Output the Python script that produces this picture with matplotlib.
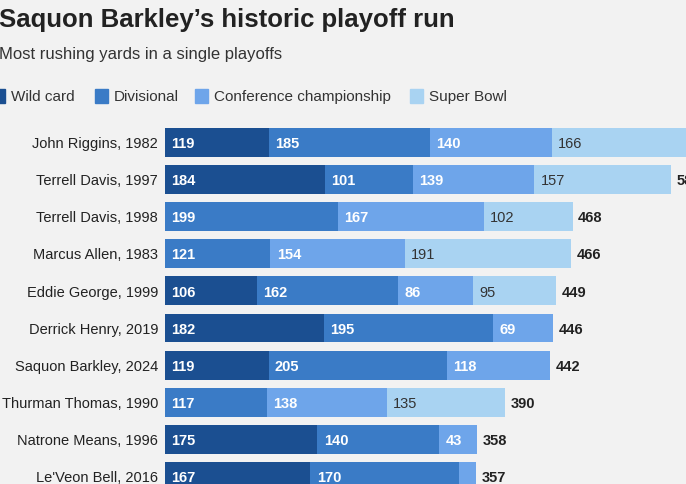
import numpy as np
import matplotlib.pyplot as plt
from matplotlib.patches import Rectangle

# Data (rushing yards per playoff round, nan = no game that round)
players = ["John Riggins, 1982", "Terrell Davis, 1997", "Terrell Davis, 1998",
           "Marcus Allen, 1983", "Eddie George, 1999", "Derrick Henry, 2019",
           "Saquon Barkley, 2024", "Thurman Thomas, 1990", "Natrone Means, 1996",
           "Le'Veon Bell, 2016"]
wild_card = [119, 184, np.nan, np.nan, 106, 182, 119, np.nan, 175, 167]
divisional = [185, 101, 199, 121, 162, 195, 205, 117, 140, 170]
conference = [140, 139, 167, 154, 86, 69, 118, 138, 43, 20]
super_bowl = [166, 157, 102, 191, 95, np.nan, np.nan, 135, np.nan, np.nan]

rounds = ["Wild card", "Divisional", "Conference championship", "Super Bowl"]
colors = ["#1b4f91", "#3a7bc6", "#6ea5ea", "#a9d3f2"]
text_colors = ["white", "white", "white", "#333333"]

bg = "#f2f2f2"
plt.rcParams["font.family"] = ["Liberation Sans", "DejaVu Sans"]
W, H = 686, 485

fig = plt.figure(figsize=(W / 100, H / 100), dpi=100, facecolor=bg)

# axes covers whole height; y mapped so rows land at the right pixel rows
x0 = 165
px_per_yd = 0.871
row0, step = 143.5, 37.1
ax = fig.add_axes([x0 / W, 0, 1 - x0 / W, 1])
ax.set_facecolor(bg)
ax.set_xlim(0, (W - x0) / px_per_yd)
ax.set_ylim((H - row0) / step, -row0 / step)
ax.axis("off")

series = [wild_card, divisional, conference, super_bowl]
y = np.arange(len(players))
left = np.zeros(len(players))
for vals, c, tc in zip(series, colors, text_colors):
    v = np.nan_to_num(np.array(vals, dtype=float))
    ax.barh(y, v, left=left, height=0.78, color=c, edgecolor="none")
    for i in range(len(players)):
        if v[i] >= 30:
            ax.annotate(f"{int(v[i])}", xy=(left[i], y[i]), xytext=(4.5, -0.5),
                        textcoords="offset points", ha="left", va="center",
                        color=tc, fontsize=10.5,
                        fontweight="bold" if tc == "white" else "normal",
                        clip_on=True)
    left += v

for i, name in enumerate(players):
    ax.annotate(name, xy=(0, y[i]), xytext=(-5, -0.5), textcoords="offset points",
                ha="right", va="center", fontsize=10.5,
                color="#222222", annotation_clip=False)
    ax.annotate(f"{int(left[i])}", xy=(left[i], y[i]), xytext=(4, -0.5),
                textcoords="offset points", ha="left", va="center",
                fontsize=10.5, fontweight="bold",
                color="#222222", annotation_clip=False)

# title, subtitle
fig.text(-0.002, 1 - 27 / H, "Saquon Barkley\u2019s historic playoff run",
         fontsize=18.5, fontweight="bold", color="#222222",
         va="baseline", ha="left")
fig.text(-0.002, 1 - 59 / H, "Most rushing yards in a single playoffs",
         fontsize=12, color="#333333", va="baseline", ha="left")

# legend
sq_x = [-8, 95, 195, 410]
for sx, lab, c in zip(sq_x, rounds, colors):
    fig.add_artist(Rectangle((sx / W, 1 - 104 / H), 13 / W, 14 / H,
                             transform=fig.transFigure, color=c))
    fig.text((sx + 19) / W, 1 - 97 / H, lab, fontsize=11, color="#333333",
             va="center", ha="left")

fig.savefig("out.png", dpi=100, facecolor=bg)
